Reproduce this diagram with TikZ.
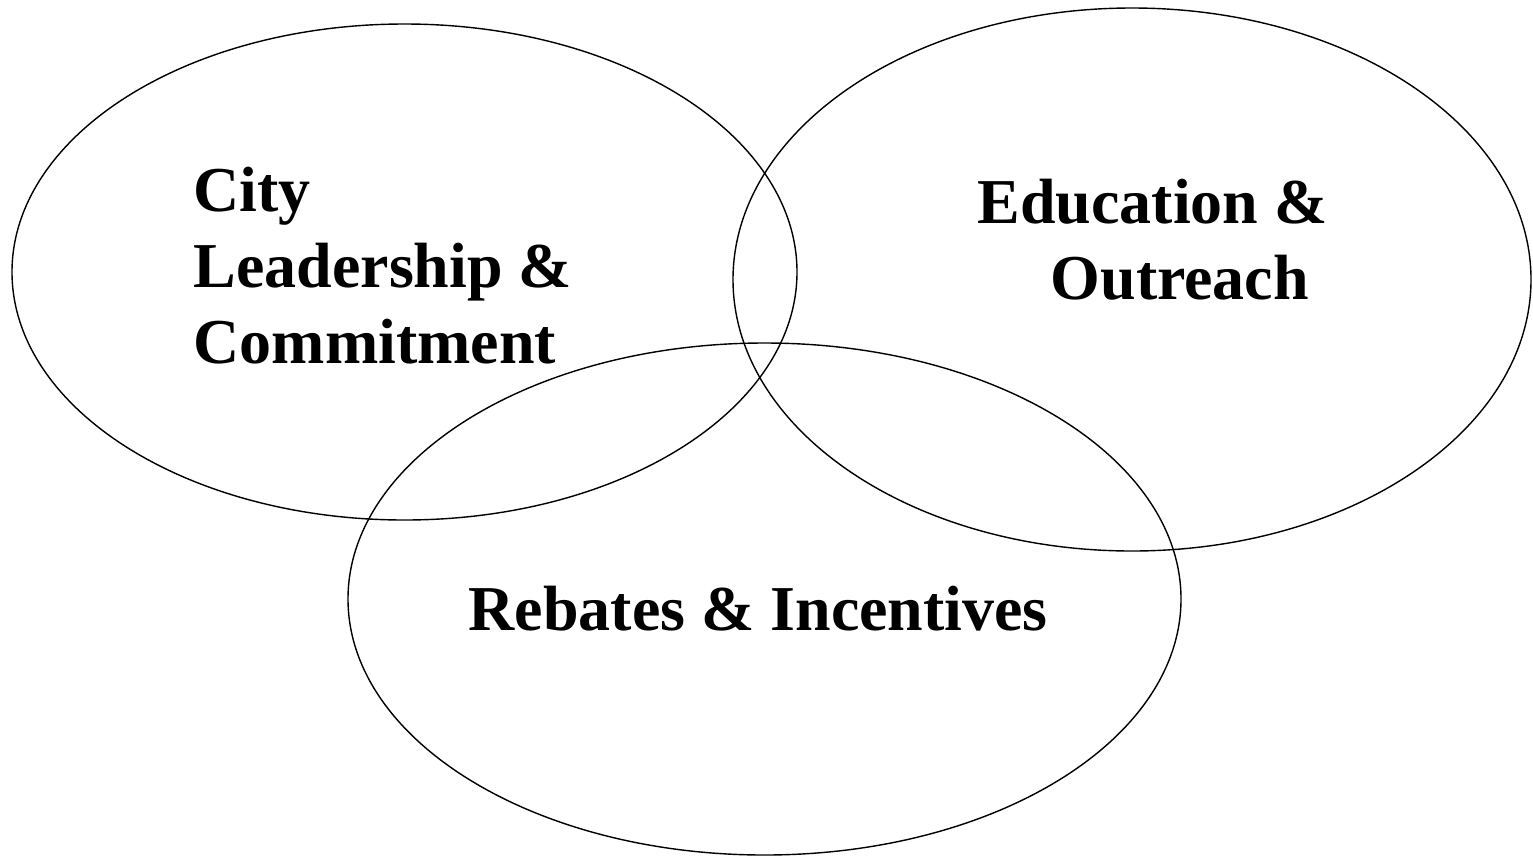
\documentclass[tikz,border=0pt]{standalone}
\usepackage{fontspec}
\setmainfont{Liberation Serif}
\usetikzlibrary{positioning}

\tikzset{
    circle label/.style = {inner sep = 0pt, align = left, font = \bfseries\fontsize{36.4}{43}\selectfont},
}

\begin{document}
\begin{tikzpicture}[black, line width = 0.8pt, x = 0.02cm, y = -0.02cm]

    \useasboundingbox (0,0) rectangle (1533,856);

    \coordinate (L) at (404.5,272);
    \coordinate (R) at (1132,279.5);
    \coordinate (B) at (764.5,599);

    \draw (L) ellipse [x radius = 392.5, y radius = 248];
    \draw (R) ellipse [x radius = 399, y radius = 271.5];
    \draw (B) ellipse [x radius = 416.5, y radius = 256];

    % base anchor sits on the last line
    \node[circle label, anchor = base west] (city) at (193,363)
        {City\\Leadership \&\\Commitment};
    \node[circle label, anchor = base west] (edu) at (977,299)
        {Education \&\\\hspace*{1.46cm}Outreach};
    \node[circle label, anchor = base west] (rebates) at (468,630)
        {Rebates \& Incentives};

\end{tikzpicture}
\end{document}
